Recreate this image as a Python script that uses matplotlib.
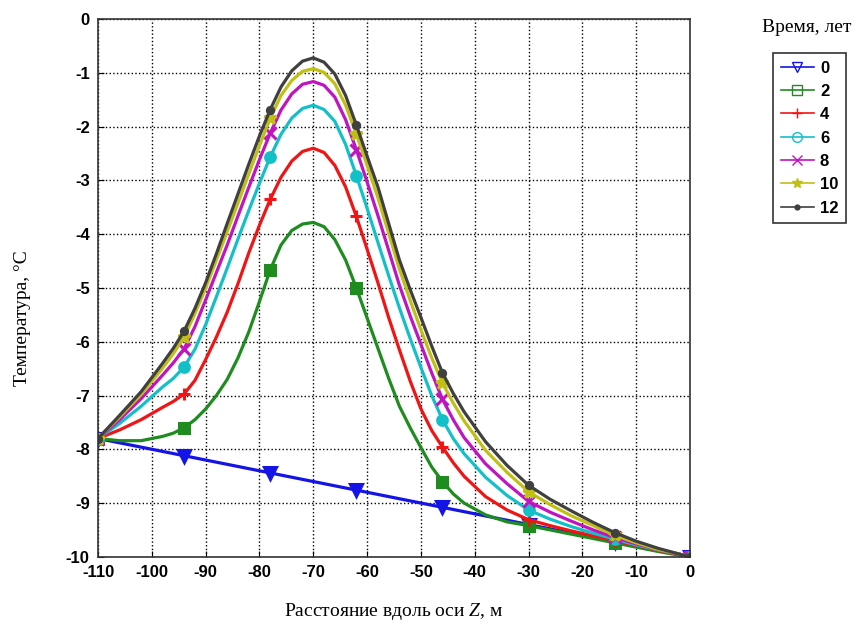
import matplotlib
matplotlib.use('Agg')
import matplotlib.pyplot as plt
from matplotlib.lines import Line2D

# Расстояние вдоль оси Z, м (для кривых 2..12 лет)
z = [-110, -106, -102, -98, -96, -94, -92, -90, -88, -86, -84, -82, -80, -78, -76, -74, -72,
     -70, -68, -66, -64, -62, -60, -58, -56, -54, -52, -50, -48, -46, -44, -42,
     -38, -34, -30, -26, -22, -18, -14, -10, -6, -2, 0]

# Начальное распределение (0 лет)
z0 = [-110, -94, -78, -62, -46, -30, -14, 0]
t0 = [-7.80, -8.12, -8.44, -8.76, -9.08, -9.40, -9.72, -10.0]

# Температура, °C
t2 = [-7.80, -7.84, -7.84, -7.76, -7.70, -7.60, -7.45, -7.25, -7.00, -6.70, -6.30, -5.82, -5.25, -4.66, -4.20, -3.93, -3.81,
      -3.78, -3.86, -4.10, -4.48, -5.00, -5.56, -6.12, -6.68, -7.20, -7.60, -7.97, -8.33, -8.60, -8.83, -9.00,
      -9.22, -9.35, -9.42, -9.50, -9.58, -9.66, -9.74, -9.82, -9.90, -9.97, -10.0]
t4 = [-7.80, -7.64, -7.45, -7.22, -7.11, -6.97, -6.72, -6.33, -5.91, -5.45, -4.92, -4.35, -3.83, -3.35, -2.94, -2.64, -2.46,
      -2.40, -2.48, -2.72, -3.12, -3.67, -4.28, -4.90, -5.55, -6.15, -6.73, -7.25, -7.65, -7.96, -8.25, -8.50,
      -8.88, -9.13, -9.31, -9.42, -9.52, -9.61, -9.70, -9.79, -9.88, -9.96, -10.0]
t6 = [-7.80, -7.52, -7.20, -6.84, -6.68, -6.47, -6.14, -5.68, -5.16, -4.63, -4.09, -3.56, -3.05, -2.56, -2.14, -1.84, -1.66,
      -1.60, -1.68, -1.90, -2.33, -2.91, -3.52, -4.15, -4.77, -5.37, -5.94, -6.48, -7.00, -7.45, -7.80, -8.08,
      -8.52, -8.86, -9.13, -9.30, -9.44, -9.56, -9.67, -9.78, -9.87, -9.95, -10.0]
t8 = [-7.80, -7.45, -7.06, -6.62, -6.39, -6.13, -5.72, -5.22, -4.71, -4.20, -3.66, -3.13, -2.61, -2.12, -1.69, -1.39, -1.21,
      -1.16, -1.23, -1.45, -1.87, -2.43, -3.03, -3.65, -4.30, -4.95, -5.52, -6.05, -6.58, -7.07, -7.45, -7.78,
      -8.27, -8.64, -8.97, -9.17, -9.34, -9.50, -9.64, -9.76, -9.86, -9.95, -10.0]
t10 = [-7.80, -7.40, -6.98, -6.49, -6.22, -5.91, -5.48, -5.00, -4.48, -3.95, -3.42, -2.88, -2.35, -1.84, -1.42, -1.14, -0.97,
       -0.92, -0.99, -1.20, -1.60, -2.14, -2.72, -3.32, -3.98, -4.65, -5.23, -5.78, -6.30, -6.77, -7.14, -7.47,
       -8.02, -8.43, -8.79, -9.03, -9.24, -9.42, -9.60, -9.74, -9.86, -9.95, -10.0]
t12 = [-7.80, -7.37, -6.93, -6.40, -6.12, -5.80, -5.38, -4.90, -4.36, -3.80, -3.25, -2.70, -2.17, -1.68, -1.26, -0.96, -0.78,
       -0.72, -0.80, -1.02, -1.42, -1.97, -2.55, -3.12, -3.80, -4.48, -5.03, -5.55, -6.08, -6.58, -6.96, -7.30,
       -7.86, -8.30, -8.67, -8.93, -9.15, -9.36, -9.55, -9.71, -9.84, -9.95, -10.0]

years = ['0', '2', '4', '6', '8', '10', '12']
xs = [z0, z, z, z, z, z, z]
series = [t0, t2, t4, t6, t8, t10, t12]
colors = ['#1414e6', '#1e8c1e', '#f01414', '#14c0c8', '#c014c0', '#c0c014', '#404040']
markers = ['v', 's', '+', 'o', 'x', '*', '.']
msizes = [8, 7, 9, 7, 8, 9, 9]
mark_z = [-110, -94, -78, -62, -46, -30, -14, 0]

plt.rcParams['font.family'] = 'Liberation Sans'
plt.rcParams['axes.unicode_minus'] = False
plt.rcParams['mathtext.fontset'] = 'custom'
plt.rcParams['mathtext.it'] = 'Liberation Serif:italic'
plt.rcParams['mathtext.rm'] = 'Liberation Serif'

fig = plt.figure(figsize=(8.63, 6.4), dpi=100)
ax = fig.add_axes([0.1136, 0.130, 0.686, 0.840])

handles = []
for x, vals, c, m, ms, lab in zip(xs, series, colors, markers, msizes, years):
    idx = [x.index(v) for v in mark_z]
    ax.plot(x, vals, color=c, lw=2.3, marker=m, markevery=idx,
            markersize=ms, markeredgewidth=2.2, markerfacecolor=c)
    face = c if m in ('.', '*') else 'none'
    handles.append(Line2D([], [], color=c, lw=1.2, marker=m, markersize=7,
                          markerfacecolor=face, markeredgecolor=c, label=lab))

ax.set_xlim(-110, 0)
ax.set_ylim(-10, 0)
ax.set_xticks(range(-110, 1, 10))
ax.set_yticks(range(-10, 1, 1))
ax.grid(True, color='black', linestyle=':', linewidth=1.0)
ax.tick_params(direction='in', labelsize=12, pad=6, length=4)
for lbl in ax.get_xticklabels() + ax.get_yticklabels():
    lbl.set_fontweight('bold')
for s in ax.spines.values():
    s.set_linewidth(1.2)
    s.set_color('#333333')

fig.text(0.026, 0.503, 'Температура, °C', rotation=90, ha='center', va='center',
         fontsize=14, family='Liberation Serif')
fig.text(0.456, 0.044, r'Расстояние вдоль оси $\mathit{Z}$, м', ha='center', va='center',
         fontsize=14, family='Liberation Serif')
fig.text(0.935, 0.957, 'Время, лет', ha='center', va='center',
         fontsize=14, family='Liberation Serif')

leg = fig.legend(handles=handles, loc='upper left', bbox_to_anchor=(0.896, 0.917),
                 borderaxespad=0, frameon=True, fancybox=False, handlelength=2.0,
                 handletextpad=0.35, labelspacing=0.5, borderpad=0.45,
                 prop={'weight': 'bold', 'size': 12})
leg.get_frame().set_edgecolor('black')
leg.get_frame().set_linewidth(1.2)

fig.savefig('out.png', dpi=100)
